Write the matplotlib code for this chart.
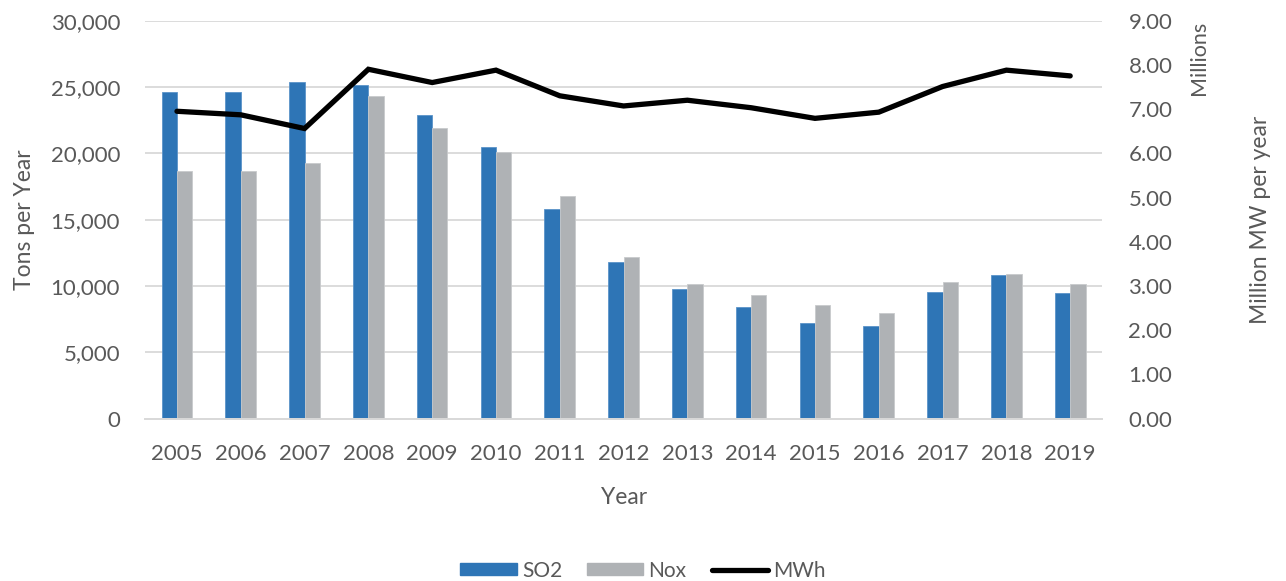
import numpy as np
import matplotlib.pyplot as plt
from matplotlib.ticker import FuncFormatter
from matplotlib.patches import Patch
from matplotlib.lines import Line2D

# Data
years = [2005, 2006, 2007, 2008, 2009, 2010, 2011, 2012, 2013, 2014, 2015, 2016, 2017, 2018, 2019]
so2 = [24600, 24650, 25400, 25150, 22900, 20450, 15800, 11800, 9800, 8450, 7200, 6950, 9550, 10800, 9500]
nox = [18700, 18650, 19300, 24300, 21900, 20100, 16800, 12150, 10170, 9350, 8550, 7950, 10300, 10900, 10150]
mwh = [6.95, 6.87, 6.56, 7.90, 7.60, 7.88, 7.30, 7.07, 7.20, 7.03, 6.79, 6.93, 7.51, 7.88, 7.75]

blue = '#2E75B6'
grey = '#AFB2B5'
txt = '#595959'
grid = '#D9D9D9'

plt.rcParams['font.family'] = ['Lato', 'DejaVu Sans']

fig = plt.figure(figsize=(12.86, 5.81), dpi=100)
ax = fig.add_axes([0.1128, 0.2795, 0.7442, 0.685])
ax2 = ax.twinx()

x = np.arange(len(years))
w = 0.24
ax.bar(x - w/2, so2, w, color=blue, edgecolor='#5B93C9', linewidth=0.6, zorder=2)
ax.bar(x + w/2, nox, w, color=grey, edgecolor='#C8CACC', linewidth=0.6, zorder=2)
ax2.plot(x, mwh, color='black', lw=3.8, solid_capstyle='round', solid_joinstyle='miter', zorder=3)

ax.set_xlim(-0.5, len(years) - 0.5)
ax.set_ylim(0, 30000)
ax.set_yticks(np.arange(0, 30001, 5000))
ax.yaxis.set_major_formatter(FuncFormatter(lambda v, p: f'{int(v):,}'))
ax.set_xticks(x)
ax.set_xticklabels([str(y) for y in years])
ax.grid(axis='y', color=grid, lw=1.3, zorder=0)
ax.set_axisbelow(True)

ax2.set_ylim(0, 9)
ax2.set_yticks(np.arange(0, 9.01, 1))
ax2.yaxis.set_major_formatter(FuncFormatter(lambda v, p: f'{v:.2f}'))

for a in (ax, ax2):
    for s in ['top', 'right', 'left']:
        a.spines[s].set_visible(False)
    a.spines['bottom'].set_color(grid)
    a.spines['bottom'].set_linewidth(1.3)
    a.tick_params(length=0, labelsize=16, colors=txt)
ax.tick_params(axis='y', pad=18)
ax.tick_params(axis='x', pad=18)
ax2.tick_params(axis='y', pad=19)

ax.set_xlabel('Year', fontsize=16.5, color=txt, labelpad=17)
ax.set_ylabel('Tons per Year', fontsize=16.5, color=txt, labelpad=11)
ax2.set_ylabel('Million MW per year', fontsize=16.5, color=txt, labelpad=56)
fig.text(0.932, 0.965, 'Millions', rotation=90, ha='center', va='top', fontsize=15.5, color=txt)

handles = [Patch(facecolor=blue, edgecolor=blue), Patch(facecolor=grey, edgecolor=grey),
           Line2D([0], [0], color='black', lw=3.8, solid_capstyle='round')]
fig.legend(handles, ['SO2', 'Nox', 'MWh'], loc='center', bbox_to_anchor=(0.5, 0.018), ncol=3,
           frameon=False, fontsize=15, labelcolor=txt, handlelength=2.7, handleheight=0.5,
           handletextpad=0.25, columnspacing=1.2)

fig.savefig('out.png', dpi=100)
